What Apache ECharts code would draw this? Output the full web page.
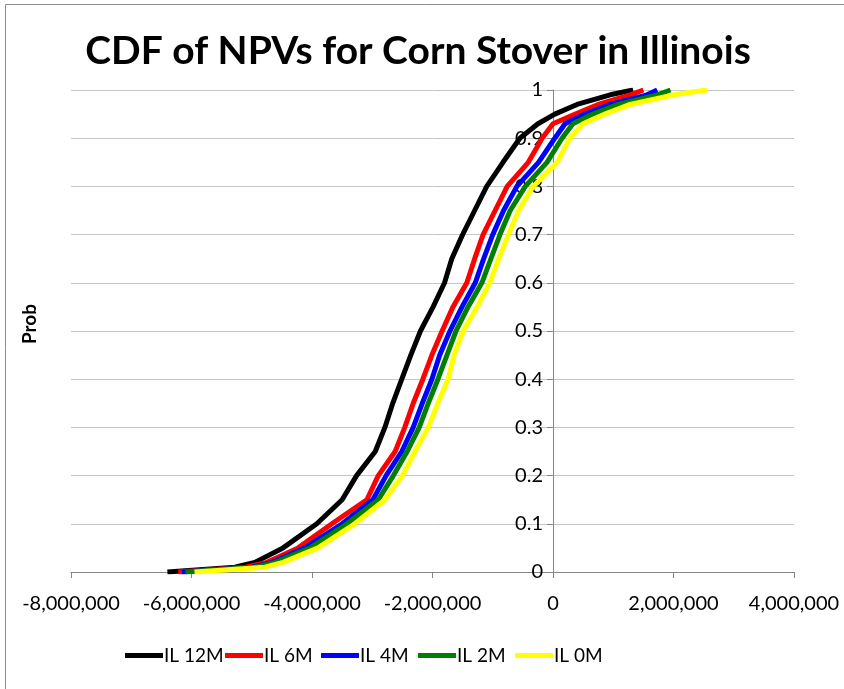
<!DOCTYPE html>
<html>
<head>
<meta charset="utf-8">
<title>CDF of NPVs for Corn Stover in Illinois</title>
<script src="https://cdn.jsdelivr.net/npm/echarts@6/dist/echarts.min.js"></script>
<style>
  html, body {
    margin: 0;
    padding: 0;
    background: #ffffff;
  }
  #chart {
    width: 844px;
    height: 689px;
  }
</style>
</head>
<body>
<div id="chart"></div>
<script>
// cumulative probability levels
const probLevels = [0, 0.01, 0.02, 0.05, 0.1, 0.15, 0.2, 0.25, 0.3, 0.35, 0.4, 0.45, 0.5,
  0.55, 0.6, 0.65, 0.7, 0.75, 0.8, 0.85, 0.9, 0.93, 0.95, 0.97, 0.99, 1]

// NPV (dollars) at each probability level, per scenario
const il12M = [-6400000, -5280000, -4950000, -4480000, -3920000, -3500000, -3260000, -2950000, -2790000,
  -2660000, -2510000, -2360000, -2200000, -1990000, -1800000, -1680000, -1500000, -1300000, -1100000,
  -830000, -550000, -250000, 30000, 400000, 950000, 1330000]
const il6M = [-6220000, -5100000, -4750000, -4230000, -3670000, -3090000, -2900000, -2620000, -2460000,
  -2320000, -2160000, -2010000, -1840000, -1660000, -1430000, -1300000, -1160000, -960000, -760000,
  -410000, -180000, 0, 370000, 750000, 1280000, 1500000]
const il4M = [-6160000, -5000000, -4660000, -4120000, -3500000, -2990000, -2770000, -2510000, -2320000,
  -2170000, -2010000, -1880000, -1710000, -1510000, -1290000, -1150000, -1000000, -820000, -600000,
  -240000, 30000, 200000, 530000, 950000, 1560000, 1730000]
const il2M = [-6100000, -4950000, -4610000, -4030000, -3420000, -2900000, -2650000, -2420000, -2220000,
  -2070000, -1910000, -1760000, -1610000, -1410000, -1180000, -1030000, -880000, -710000, -460000,
  -100000, 150000, 330000, 660000, 1080000, 1730000, 1950000]
const il0M = [-5950000, -4780000, -4480000, -3900000, -3290000, -2790000, -2500000, -2290000, -2070000,
  -1910000, -1740000, -1640000, -1490000, -1260000, -1050000, -900000, -740000, -570000, -330000,
  70000, 280000, 500000, 860000, 1280000, 2000000, 2560000]

const seriesNames = ['IL 12M', 'IL 6M', 'IL 4M', 'IL 2M', 'IL 0M']
const seriesValues = [il12M, il6M, il4M, il2M, il0M]
const seriesColors = ['#000000', '#ff0000', '#0000ff', '#008000', '#ffff00']

const fontFamily = 'Lato, "Liberation Sans", sans-serif'
const legendLeft = [125, 225, 321, 418, 515]

const chart = echarts.init(document.getElementById('chart'), null, { renderer: 'canvas' })

const option = {
  animation: false,
  backgroundColor: '#ffffff',
  textStyle: { fontFamily: fontFamily },
  title: {
    text: 'CDF of NPVs for Corn Stover in Illinois',
    left: 413,
    textAlign: 'center',
    top: 27,
    textStyle: {
      fontFamily: fontFamily,
      fontSize: 39,
      fontWeight: 'bold',
      color: '#000000'
    }
  },
  graphic: [
    {
      type: 'rect',
      shape: { x: 5.5, y: 4.5, width: 900, height: 900 },
      style: { fill: 'none', stroke: '#8c8c8c', lineWidth: 1 },
      silent: true
    },
    {
      type: 'text',
      x: 30,
      y: 324,
      rotation: Math.PI / 2,
      style: {
        text: 'Prob',
        fontFamily: fontFamily,
        fontSize: 19,
        fontWeight: 'bold',
        fill: '#000000',
        align: 'center',
        verticalAlign: 'middle'
      }
    }
  ],
  legend: seriesNames.map((name, i) => ({
    data: [name],
    left: legendLeft[i],
    top: 646,
    icon: 'rect',
    itemWidth: 38,
    itemHeight: 5,
    itemGap: 0,
    padding: 0,
    textStyle: {
      fontFamily: fontFamily,
      fontSize: 19,
      color: '#000000',
      padding: [0, 0, 0, -4]
    }
  })),
  grid: {
    left: 71,
    right: 50,
    top: 90,
    bottom: 117,
    containLabel: false
  },
  xAxis: {
    type: 'value',
    min: -8000000,
    max: 4000000,
    interval: 2000000,
    axisLine: { show: true, lineStyle: { color: '#868686', width: 1 } },
    axisTick: { show: true, inside: false, length: 6, lineStyle: { color: '#868686' } },
    splitLine: { show: false },
    axisLabel: {
      margin: 22,
      fontFamily: fontFamily,
      fontSize: 20,
      color: '#000000',
      formatter: v => v.toLocaleString('en-US')
    }
  },
  yAxis: {
    type: 'value',
    min: 0,
    max: 1,
    interval: 0.1,
    // the vertical axis sits on NPV = 0
    offset: -482,
    axisLine: { show: true, onZero: false, lineStyle: { color: '#868686', width: 1 } },
    axisTick: { show: true, inside: false, length: 6, lineStyle: { color: '#868686' } },
    splitLine: { show: true, lineStyle: { color: '#c6c6c6', width: 1 } },
    axisLabel: {
      margin: 10,
      fontFamily: fontFamily,
      fontSize: 20,
      color: '#000000',
      formatter: v => String(Math.round(v * 10) / 10)
    }
  },
  series: seriesNames.map((name, i) => ({
    name: name,
    type: 'line',
    data: seriesValues[i].map((x, j) => [x, probLevels[j]]),
    showSymbol: false,
    symbol: 'none',
    smooth: false,
    color: seriesColors[i],
    lineStyle: { color: seriesColors[i], width: 5 },
    z: 2 + i
  }))
}

chart.setOption(option)
</script>
</body>
</html>
